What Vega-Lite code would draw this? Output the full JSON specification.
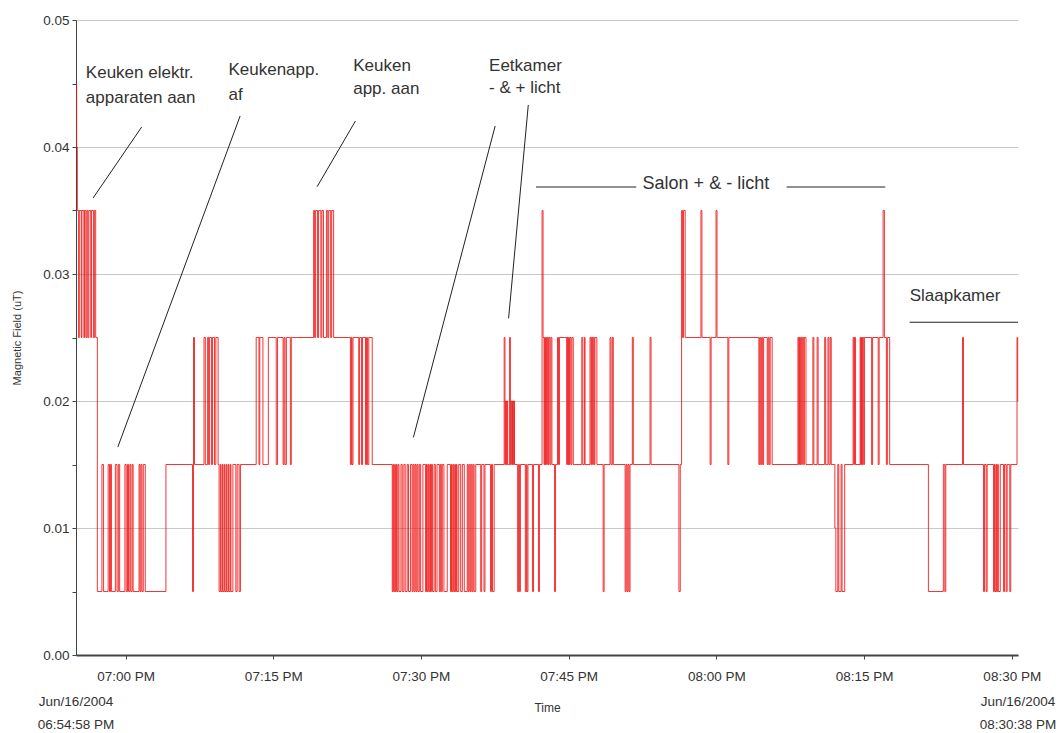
{
  "$schema": "https://vega.github.io/schema/vega-lite/v6.json",
  "autosize": "none",
  "width": 942,
  "height": 635,
  "padding": {"left": 76, "top": 20, "right": 44, "bottom": 78},
  "background": "white",
  "config": {
    "view": {"stroke": null},
    "axis": {
      "labelFont": "Liberation Sans",
      "titleFont": "Liberation Sans",
      "labelColor": "#333",
      "titleColor": "#333",
      "domainColor": "#444",
      "tickColor": "#444",
      "labelFontSize": 13.5,
      "titleFontWeight": "normal"
    }
  },
  "layer": [
    {
      "data": {
        "values": [
          {"t":"2004-06-16T18:54:58","v":0.045},{"t":"2004-06-16T18:55:02","v":0.04},{"t":"2004-06-16T18:55:06","v":0.035},{"t":"2004-06-16T18:55:14","v":0.025},{"t":"2004-06-16T18:55:18","v":0.035},{"t":"2004-06-16T18:55:30","v":0.025},{"t":"2004-06-16T18:55:34","v":0.035},{"t":"2004-06-16T18:55:46","v":0.025},{"t":"2004-06-16T18:55:50","v":0.035},{"t":"2004-06-16T18:55:58","v":0.025},{"t":"2004-06-16T18:56:04","v":0.035},{"t":"2004-06-16T18:56:10","v":0.025},{"t":"2004-06-16T18:56:16","v":0.035},{"t":"2004-06-16T18:56:28","v":0.025},{"t":"2004-06-16T18:56:32","v":0.035},{"t":"2004-06-16T18:56:44","v":0.025},{"t":"2004-06-16T18:56:50","v":0.035},{"t":"2004-06-16T18:56:58","v":0.025},{"t":"2004-06-16T18:57:08","v":0.005},
          {"t":"2004-06-16T18:57:36","v":0.015},{"t":"2004-06-16T18:57:46","v":0.005},{"t":"2004-06-16T18:58:14","v":0.015},{"t":"2004-06-16T18:58:22","v":0.005},{"t":"2004-06-16T18:58:28","v":0.015},{"t":"2004-06-16T18:58:34","v":0.005},{"t":"2004-06-16T18:58:58","v":0.015},{"t":"2004-06-16T18:59:08","v":0.005},{"t":"2004-06-16T18:59:16","v":0.015},{"t":"2004-06-16T18:59:24","v":0.005},{"t":"2004-06-16T18:59:56","v":0.015},{"t":"2004-06-16T19:00:04","v":0.005},{"t":"2004-06-16T19:00:12","v":0.015},{"t":"2004-06-16T19:00:18","v":0.005},{"t":"2004-06-16T19:00:26","v":0.015},{"t":"2004-06-16T19:00:32","v":0.005},{"t":"2004-06-16T19:00:40","v":0.015},{"t":"2004-06-16T19:00:46","v":0.005},{"t":"2004-06-16T19:01:22","v":0.015},{"t":"2004-06-16T19:01:28","v":0.005},{"t":"2004-06-16T19:01:34","v":0.015},{"t":"2004-06-16T19:01:40","v":0.005},{"t":"2004-06-16T19:01:48","v":0.015},{"t":"2004-06-16T19:02:00","v":0.005},
          {"t":"2004-06-16T19:04:06","v":0.015},{"t":"2004-06-16T19:06:48","v":0.005},{"t":"2004-06-16T19:06:54","v":0.025},{"t":"2004-06-16T19:07:00","v":0.015},{"t":"2004-06-16T19:07:58","v":0.025},{"t":"2004-06-16T19:08:06","v":0.015},{"t":"2004-06-16T19:08:20","v":0.025},{"t":"2004-06-16T19:08:26","v":0.015},{"t":"2004-06-16T19:08:32","v":0.025},{"t":"2004-06-16T19:08:44","v":0.015},{"t":"2004-06-16T19:08:50","v":0.025},{"t":"2004-06-16T19:09:02","v":0.015},{"t":"2004-06-16T19:09:10","v":0.025},{"t":"2004-06-16T19:09:24","v":0.015},
          {"t":"2004-06-16T19:09:30","v":0.005},{"t":"2004-06-16T19:09:38","v":0.015},{"t":"2004-06-16T19:09:42","v":0.005},{"t":"2004-06-16T19:09:50","v":0.015},{"t":"2004-06-16T19:09:54","v":0.005},{"t":"2004-06-16T19:10:02","v":0.015},{"t":"2004-06-16T19:10:06","v":0.005},{"t":"2004-06-16T19:10:14","v":0.015},{"t":"2004-06-16T19:10:18","v":0.005},{"t":"2004-06-16T19:10:26","v":0.015},{"t":"2004-06-16T19:10:30","v":0.005},{"t":"2004-06-16T19:10:38","v":0.015},{"t":"2004-06-16T19:10:42","v":0.005},{"t":"2004-06-16T19:10:54","v":0.015},{"t":"2004-06-16T19:11:12","v":0.005},{"t":"2004-06-16T19:11:20","v":0.015},{"t":"2004-06-16T19:11:32","v":0.005},{"t":"2004-06-16T19:11:40","v":0.015},
          {"t":"2004-06-16T19:13:16","v":0.025},{"t":"2004-06-16T19:13:33","v":0.015},{"t":"2004-06-16T19:13:38","v":0.025},{"t":"2004-06-16T19:13:57","v":0.015},{"t":"2004-06-16T19:14:30","v":0.025},{"t":"2004-06-16T19:15:18","v":0.015},{"t":"2004-06-16T19:15:26","v":0.025},{"t":"2004-06-16T19:16:00","v":0.015},{"t":"2004-06-16T19:16:06","v":0.025},{"t":"2004-06-16T19:16:12","v":0.015},{"t":"2004-06-16T19:16:20","v":0.025},{"t":"2004-06-16T19:16:44","v":0.015},{"t":"2004-06-16T19:16:50","v":0.025},
          {"t":"2004-06-16T19:19:06","v":0.035},{"t":"2004-06-16T19:19:12","v":0.025},{"t":"2004-06-16T19:19:18","v":0.035},{"t":"2004-06-16T19:19:30","v":0.025},{"t":"2004-06-16T19:19:36","v":0.035},{"t":"2004-06-16T19:19:50","v":0.025},{"t":"2004-06-16T19:19:56","v":0.035},{"t":"2004-06-16T19:20:06","v":0.025},{"t":"2004-06-16T19:20:24","v":0.035},{"t":"2004-06-16T19:20:32","v":0.025},{"t":"2004-06-16T19:20:38","v":0.035},{"t":"2004-06-16T19:20:50","v":0.025},{"t":"2004-06-16T19:20:56","v":0.035},{"t":"2004-06-16T19:21:08","v":0.025},
          {"t":"2004-06-16T19:22:50","v":0.015},{"t":"2004-06-16T19:22:56","v":0.025},{"t":"2004-06-16T19:23:00","v":0.015},{"t":"2004-06-16T19:23:06","v":0.025},{"t":"2004-06-16T19:23:41","v":0.015},{"t":"2004-06-16T19:23:46","v":0.025},{"t":"2004-06-16T19:23:58","v":0.015},{"t":"2004-06-16T19:24:04","v":0.025},{"t":"2004-06-16T19:24:22","v":0.015},{"t":"2004-06-16T19:24:28","v":0.025},{"t":"2004-06-16T19:24:34","v":0.015},{"t":"2004-06-16T19:24:42","v":0.025},{"t":"2004-06-16T19:25:03","v":0.015},
          {"t":"2004-06-16T19:27:05","v":0.005},{"t":"2004-06-16T19:27:10","v":0.015},{"t":"2004-06-16T19:27:14","v":0.005},{"t":"2004-06-16T19:27:20","v":0.015},{"t":"2004-06-16T19:27:24","v":0.005},{"t":"2004-06-16T19:27:30","v":0.015},{"t":"2004-06-16T19:27:34","v":0.005},{"t":"2004-06-16T19:27:40","v":0.015},{"t":"2004-06-16T19:27:46","v":0.005},{"t":"2004-06-16T19:27:58","v":0.015},{"t":"2004-06-16T19:28:06","v":0.005},{"t":"2004-06-16T19:28:16","v":0.015},{"t":"2004-06-16T19:28:24","v":0.005},{"t":"2004-06-16T19:28:36","v":0.015},{"t":"2004-06-16T19:28:44","v":0.005},{"t":"2004-06-16T19:28:56","v":0.015},{"t":"2004-06-16T19:29:06","v":0.005},{"t":"2004-06-16T19:29:12","v":0.015},{"t":"2004-06-16T19:29:18","v":0.005},{"t":"2004-06-16T19:29:24","v":0.015},{"t":"2004-06-16T19:29:30","v":0.005},{"t":"2004-06-16T19:29:36","v":0.015},{"t":"2004-06-16T19:29:42","v":0.005},{"t":"2004-06-16T19:29:50","v":0.015},{"t":"2004-06-16T19:29:58","v":0.005},{"t":"2004-06-16T19:30:12","v":0.015},{"t":"2004-06-16T19:30:28","v":0.005},{"t":"2004-06-16T19:30:34","v":0.015},{"t":"2004-06-16T19:30:38","v":0.005},{"t":"2004-06-16T19:30:44","v":0.015},{"t":"2004-06-16T19:30:48","v":0.005},{"t":"2004-06-16T19:30:54","v":0.015},{"t":"2004-06-16T19:30:58","v":0.005},{"t":"2004-06-16T19:31:04","v":0.015},{"t":"2004-06-16T19:31:10","v":0.005},{"t":"2004-06-16T19:31:20","v":0.015},{"t":"2004-06-16T19:31:28","v":0.005},{"t":"2004-06-16T19:31:38","v":0.015},{"t":"2004-06-16T19:31:52","v":0.005},{"t":"2004-06-16T19:31:58","v":0.015},{"t":"2004-06-16T19:32:04","v":0.005},{"t":"2004-06-16T19:32:10","v":0.015},{"t":"2004-06-16T19:32:20","v":0.005},{"t":"2004-06-16T19:32:40","v":0.015},{"t":"2004-06-16T19:33:00","v":0.005},{"t":"2004-06-16T19:33:06","v":0.015},{"t":"2004-06-16T19:33:10","v":0.005},{"t":"2004-06-16T19:33:16","v":0.015},{"t":"2004-06-16T19:33:20","v":0.005},{"t":"2004-06-16T19:33:26","v":0.015},{"t":"2004-06-16T19:33:30","v":0.005},{"t":"2004-06-16T19:33:36","v":0.015},{"t":"2004-06-16T19:33:40","v":0.005},{"t":"2004-06-16T19:33:50","v":0.015},{"t":"2004-06-16T19:34:02","v":0.005},{"t":"2004-06-16T19:34:12","v":0.015},{"t":"2004-06-16T19:34:24","v":0.005},{"t":"2004-06-16T19:34:42","v":0.015},{"t":"2004-06-16T19:34:48","v":0.005},{"t":"2004-06-16T19:34:54","v":0.015},{"t":"2004-06-16T19:35:00","v":0.005},{"t":"2004-06-16T19:35:06","v":0.015},{"t":"2004-06-16T19:35:12","v":0.005},{"t":"2004-06-16T19:35:18","v":0.015},{"t":"2004-06-16T19:35:24","v":0.005},{"t":"2004-06-16T19:35:34","v":0.015},{"t":"2004-06-16T19:36:04","v":0.005},{"t":"2004-06-16T19:36:10","v":0.015},{"t":"2004-06-16T19:36:24","v":0.005},{"t":"2004-06-16T19:36:30","v":0.015},{"t":"2004-06-16T19:37:04","v":0.005},{"t":"2004-06-16T19:37:10","v":0.015},{"t":"2004-06-16T19:37:16","v":0.005},{"t":"2004-06-16T19:37:26","v":0.015},
          {"t":"2004-06-16T19:38:27","v":0.025},{"t":"2004-06-16T19:38:32","v":0.015},{"t":"2004-06-16T19:38:36","v":0.02},{"t":"2004-06-16T19:38:40","v":0.015},{"t":"2004-06-16T19:38:44","v":0.02},{"t":"2004-06-16T19:38:48","v":0.015},{"t":"2004-06-16T19:39:00","v":0.025},{"t":"2004-06-16T19:39:05","v":0.015},{"t":"2004-06-16T19:39:10","v":0.02},{"t":"2004-06-16T19:39:14","v":0.015},{"t":"2004-06-16T19:39:18","v":0.02},{"t":"2004-06-16T19:39:22","v":0.015},{"t":"2004-06-16T19:39:26","v":0.02},{"t":"2004-06-16T19:39:30","v":0.015},
          {"t":"2004-06-16T19:39:49","v":0.005},{"t":"2004-06-16T19:39:55","v":0.015},{"t":"2004-06-16T19:40:00","v":0.005},{"t":"2004-06-16T19:40:06","v":0.015},{"t":"2004-06-16T19:40:36","v":0.005},{"t":"2004-06-16T19:40:42","v":0.015},{"t":"2004-06-16T19:40:46","v":0.005},{"t":"2004-06-16T19:40:52","v":0.015},{"t":"2004-06-16T19:41:20","v":0.005},{"t":"2004-06-16T19:41:26","v":0.015},{"t":"2004-06-16T19:41:56","v":0.005},{"t":"2004-06-16T19:42:02","v":0.015},{"t":"2004-06-16T19:42:18","v":0.035},{"t":"2004-06-16T19:42:24","v":0.025},
          {"t":"2004-06-16T19:42:30","v":0.015},{"t":"2004-06-16T19:42:34","v":0.025},{"t":"2004-06-16T19:42:38","v":0.015},{"t":"2004-06-16T19:42:42","v":0.025},{"t":"2004-06-16T19:42:46","v":0.015},{"t":"2004-06-16T19:42:50","v":0.025},{"t":"2004-06-16T19:42:56","v":0.015},{"t":"2004-06-16T19:43:00","v":0.025},{"t":"2004-06-16T19:43:06","v":0.015},{"t":"2004-06-16T19:43:12","v":0.025},{"t":"2004-06-16T19:43:18","v":0.015},{"t":"2004-06-16T19:43:34","v":0.005},{"t":"2004-06-16T19:43:40","v":0.015},{"t":"2004-06-16T19:43:52","v":0.025},{"t":"2004-06-16T19:43:58","v":0.015},{"t":"2004-06-16T19:44:04","v":0.025},{"t":"2004-06-16T19:44:48","v":0.015},{"t":"2004-06-16T19:44:52","v":0.025},{"t":"2004-06-16T19:44:56","v":0.015},{"t":"2004-06-16T19:45:00","v":0.025},{"t":"2004-06-16T19:45:04","v":0.015},{"t":"2004-06-16T19:45:08","v":0.025},{"t":"2004-06-16T19:45:14","v":0.015},{"t":"2004-06-16T19:45:20","v":0.025},{"t":"2004-06-16T19:45:28","v":0.015},{"t":"2004-06-16T19:46:20","v":0.025},{"t":"2004-06-16T19:46:26","v":0.015},{"t":"2004-06-16T19:46:36","v":0.025},{"t":"2004-06-16T19:46:40","v":0.015},{"t":"2004-06-16T19:47:10","v":0.025},{"t":"2004-06-16T19:47:16","v":0.015},{"t":"2004-06-16T19:47:20","v":0.025},{"t":"2004-06-16T19:47:26","v":0.015},{"t":"2004-06-16T19:47:30","v":0.025},{"t":"2004-06-16T19:47:36","v":0.015},{"t":"2004-06-16T19:47:40","v":0.025},{"t":"2004-06-16T19:47:52","v":0.015},
          {"t":"2004-06-16T19:48:30","v":0.005},{"t":"2004-06-16T19:48:36","v":0.015},{"t":"2004-06-16T19:49:12","v":0.025},{"t":"2004-06-16T19:49:18","v":0.015},{"t":"2004-06-16T19:49:26","v":0.025},{"t":"2004-06-16T19:49:32","v":0.015},{"t":"2004-06-16T19:50:44","v":0.005},{"t":"2004-06-16T19:50:50","v":0.015},{"t":"2004-06-16T19:50:56","v":0.005},{"t":"2004-06-16T19:51:02","v":0.015},{"t":"2004-06-16T19:51:08","v":0.005},{"t":"2004-06-16T19:51:14","v":0.015},{"t":"2004-06-16T19:51:28","v":0.025},{"t":"2004-06-16T19:51:34","v":0.015},{"t":"2004-06-16T19:53:16","v":0.025},{"t":"2004-06-16T19:53:22","v":0.015},
          {"t":"2004-06-16T19:56:12","v":0.005},{"t":"2004-06-16T19:56:20","v":0.015},{"t":"2004-06-16T19:56:28","v":0.035},{"t":"2004-06-16T19:56:34","v":0.025},{"t":"2004-06-16T19:56:40","v":0.035},{"t":"2004-06-16T19:56:50","v":0.025},{"t":"2004-06-16T19:58:26","v":0.035},{"t":"2004-06-16T19:58:32","v":0.025},{"t":"2004-06-16T19:59:22","v":0.015},{"t":"2004-06-16T19:59:28","v":0.025},{"t":"2004-06-16T19:59:58","v":0.035},{"t":"2004-06-16T20:00:04","v":0.025},{"t":"2004-06-16T20:01:10","v":0.015},{"t":"2004-06-16T20:01:16","v":0.025},
          {"t":"2004-06-16T20:04:19","v":0.015},{"t":"2004-06-16T20:04:24","v":0.025},{"t":"2004-06-16T20:04:30","v":0.015},{"t":"2004-06-16T20:04:36","v":0.025},{"t":"2004-06-16T20:04:42","v":0.015},{"t":"2004-06-16T20:04:48","v":0.025},{"t":"2004-06-16T20:05:10","v":0.015},{"t":"2004-06-16T20:05:16","v":0.025},{"t":"2004-06-16T20:05:22","v":0.015},{"t":"2004-06-16T20:05:28","v":0.025},{"t":"2004-06-16T20:05:40","v":0.015},
          {"t":"2004-06-16T20:08:17","v":0.025},{"t":"2004-06-16T20:08:22","v":0.015},{"t":"2004-06-16T20:08:26","v":0.025},{"t":"2004-06-16T20:08:30","v":0.015},{"t":"2004-06-16T20:08:34","v":0.025},{"t":"2004-06-16T20:08:40","v":0.015},{"t":"2004-06-16T20:08:44","v":0.025},{"t":"2004-06-16T20:08:52","v":0.015},{"t":"2004-06-16T20:08:56","v":0.025},{"t":"2004-06-16T20:09:06","v":0.015},{"t":"2004-06-16T20:09:48","v":0.025},{"t":"2004-06-16T20:09:54","v":0.015},{"t":"2004-06-16T20:10:14","v":0.025},{"t":"2004-06-16T20:10:20","v":0.015},{"t":"2004-06-16T20:11:00","v":0.025},{"t":"2004-06-16T20:11:06","v":0.015},{"t":"2004-06-16T20:11:20","v":0.025},{"t":"2004-06-16T20:11:26","v":0.015},{"t":"2004-06-16T20:11:34","v":0.025},{"t":"2004-06-16T20:11:40","v":0.015},
          {"t":"2004-06-16T20:12:02","v":0.01},{"t":"2004-06-16T20:12:08","v":0.005},{"t":"2004-06-16T20:12:20","v":0.015},{"t":"2004-06-16T20:12:26","v":0.005},{"t":"2004-06-16T20:12:40","v":0.015},{"t":"2004-06-16T20:12:46","v":0.005},{"t":"2004-06-16T20:13:02","v":0.015},
          {"t":"2004-06-16T20:13:53","v":0.025},{"t":"2004-06-16T20:13:58","v":0.015},{"t":"2004-06-16T20:14:02","v":0.025},{"t":"2004-06-16T20:14:08","v":0.015},{"t":"2004-06-16T20:14:36","v":0.025},{"t":"2004-06-16T20:14:40","v":0.015},{"t":"2004-06-16T20:14:44","v":0.025},{"t":"2004-06-16T20:14:48","v":0.015},{"t":"2004-06-16T20:14:52","v":0.025},{"t":"2004-06-16T20:14:58","v":0.015},{"t":"2004-06-16T20:15:02","v":0.025},{"t":"2004-06-16T20:15:46","v":0.015},{"t":"2004-06-16T20:15:52","v":0.025},{"t":"2004-06-16T20:16:26","v":0.015},{"t":"2004-06-16T20:16:32","v":0.025},{"t":"2004-06-16T20:16:56","v":0.035},{"t":"2004-06-16T20:17:04","v":0.025},{"t":"2004-06-16T20:17:16","v":0.015},{"t":"2004-06-16T20:17:22","v":0.025},{"t":"2004-06-16T20:17:36","v":0.015},
          {"t":"2004-06-16T20:21:32","v":0.005},{"t":"2004-06-16T20:23:03","v":0.015},{"t":"2004-06-16T20:23:12","v":0.005},{"t":"2004-06-16T20:23:18","v":0.015},{"t":"2004-06-16T20:25:00","v":0.025},{"t":"2004-06-16T20:25:06","v":0.015},
          {"t":"2004-06-16T20:27:08","v":0.005},{"t":"2004-06-16T20:27:14","v":0.015},{"t":"2004-06-16T20:27:24","v":0.005},{"t":"2004-06-16T20:27:30","v":0.015},{"t":"2004-06-16T20:28:09","v":0.005},{"t":"2004-06-16T20:28:14","v":0.015},{"t":"2004-06-16T20:28:18","v":0.005},{"t":"2004-06-16T20:28:24","v":0.015},{"t":"2004-06-16T20:28:28","v":0.005},{"t":"2004-06-16T20:28:34","v":0.015},{"t":"2004-06-16T20:28:38","v":0.005},{"t":"2004-06-16T20:28:50","v":0.015},{"t":"2004-06-16T20:29:10","v":0.005},{"t":"2004-06-16T20:29:16","v":0.015},{"t":"2004-06-16T20:29:26","v":0.005},{"t":"2004-06-16T20:29:32","v":0.015},{"t":"2004-06-16T20:29:48","v":0.005},{"t":"2004-06-16T20:29:54","v":0.015},{"t":"2004-06-16T20:30:32","v":0.025},{"t":"2004-06-16T20:30:36","v":0.02},{"t":"2004-06-16T20:30:38","v":0.02}
        ]
      },
      "mark": {"type": "line", "interpolate": "step-after", "color": "#f01414", "strokeWidth": 1, "opacity": 0.85},
      "encoding": {
        "x": {
          "field": "t", "type": "temporal",
          "scale": {"nice": false},
          "axis": {"title": "Time", "titleFontSize": 12, "titlePadding": 20, "format": "%I:%M %p", "tickCount": 7, "grid": false, "tickSize": 4, "labelPadding": 10, "domainWidth": 2}
        },
        "y": {
          "field": "v", "type": "quantitative",
          "scale": {"domain": [0, 0.05], "nice": false},
          "axis": {
            "title": "Magnetic Field (uT)", "titleFontSize": 11, "titlePadding": 20,
            "values": [0, 0.005, 0.01, 0.015, 0.02, 0.025, 0.03, 0.035, 0.04, 0.045, 0.05],
            "labelExpr": "round(datum.value * 1000) % 10 == 0 ? format(datum.value, '.2f') : ''",
            "grid": true,
            "gridColor": {"condition": {"test": "round(datum.value * 1000) % 10 == 0", "value": "#c8c8c8"}, "value": "transparent"},
            "tickSize": 4, "labelPadding": 3
          }
        }
      }
    },
    {
      "data": {
        "values": [
          {"t":"2004-06-16T19:01:38","v":0.04157,"t2":"2004-06-16T18:56:42","v2":0.03598},
          {"t":"2004-06-16T19:11:38","v":0.04244,"t2":"2004-06-16T18:59:13","v2":0.01638},
          {"t":"2004-06-16T19:23:21","v":0.04205,"t2":"2004-06-16T19:19:27","v2":0.03687},
          {"t":"2004-06-16T19:37:32","v":0.04165,"t2":"2004-06-16T19:29:14","v2":0.01714},
          {"t":"2004-06-16T19:40:54","v":0.04331,"t2":"2004-06-16T19:38:54","v2":0.02651},
          {"t":"2004-06-16T19:41:41","v":0.03685,"t2":"2004-06-16T19:51:52","v2":0.03685},
          {"t":"2004-06-16T20:07:08","v":0.03685,"t2":"2004-06-16T20:17:09","v2":0.03685},
          {"t":"2004-06-16T20:19:38","v":0.0262,"t2":"2004-06-16T20:30:38","v2":0.0262}
        ]
      },
      "mark": {"type": "rule", "color": "#222", "strokeWidth": 1},
      "encoding": {
        "x": {"field": "t", "type": "temporal"},
        "y": {"field": "v", "type": "quantitative"},
        "x2": {"field": "t2"},
        "y2": {"field": "v2"}
      }
    },
    {
      "data": {
        "values": [
          {"t":"2004-06-16T18:55:58","v":0.0458,"label":"Keuken elektr.","kind":"left"},
          {"t":"2004-06-16T18:55:58","v":0.04383,"label":"apparaten aan","kind":"left"},
          {"t":"2004-06-16T19:10:27","v":0.04606,"label":"Keukenapp.","kind":"left"},
          {"t":"2004-06-16T19:10:27","v":0.04409,"label":"af","kind":"left"},
          {"t":"2004-06-16T19:23:07","v":0.04638,"label":"Keuken","kind":"left"},
          {"t":"2004-06-16T19:23:07","v":0.04454,"label":"app. aan","kind":"left"},
          {"t":"2004-06-16T19:36:55","v":0.04638,"label":"Eetkamer","kind":"left"},
          {"t":"2004-06-16T19:36:55","v":0.04462,"label":"- & + licht","kind":"left"},
          {"t":"2004-06-16T20:19:38","v":0.02827,"label":"Slaapkamer","kind":"left"},
          {"t":"2004-06-16T19:58:56","v":0.03709,"label":"Salon + & - licht","kind":"center"},
          {"t":"2004-06-16T18:54:58","v":-0.0037,"label":"Jun/16/2004","kind":"corner"},
          {"t":"2004-06-16T18:54:58","v":-0.00551,"label":"06:54:58 PM","kind":"corner"},
          {"t":"2004-06-16T20:30:38","v":-0.0037,"label":"Jun/16/2004","kind":"corner"},
          {"t":"2004-06-16T20:30:38","v":-0.00551,"label":"08:30:38 PM","kind":"corner"}
        ]
      },
      "layer": [
        {
          "transform": [{"filter": "datum.kind == 'left'"}],
          "mark": {"type": "text", "align": "left", "baseline": "middle", "font": "Liberation Sans", "fontSize": 17, "color": "#333"},
          "encoding": {"x": {"field": "t", "type": "temporal"}, "y": {"field": "v", "type": "quantitative"}, "text": {"field": "label"}}
        },
        {
          "transform": [{"filter": "datum.kind == 'center'"}],
          "mark": {"type": "text", "align": "center", "baseline": "middle", "font": "Liberation Sans", "fontSize": 18, "color": "#333"},
          "encoding": {"x": {"field": "t", "type": "temporal"}, "y": {"field": "v", "type": "quantitative"}, "text": {"field": "label"}}
        },
        {
          "transform": [{"filter": "datum.kind == 'corner'"}],
          "mark": {"type": "text", "align": "center", "baseline": "middle", "font": "Liberation Sans", "fontSize": 13.5, "color": "#333"},
          "encoding": {"x": {"field": "t", "type": "temporal"}, "y": {"field": "v", "type": "quantitative"}, "text": {"field": "label"}}
        }
      ]
    }
  ]
}
